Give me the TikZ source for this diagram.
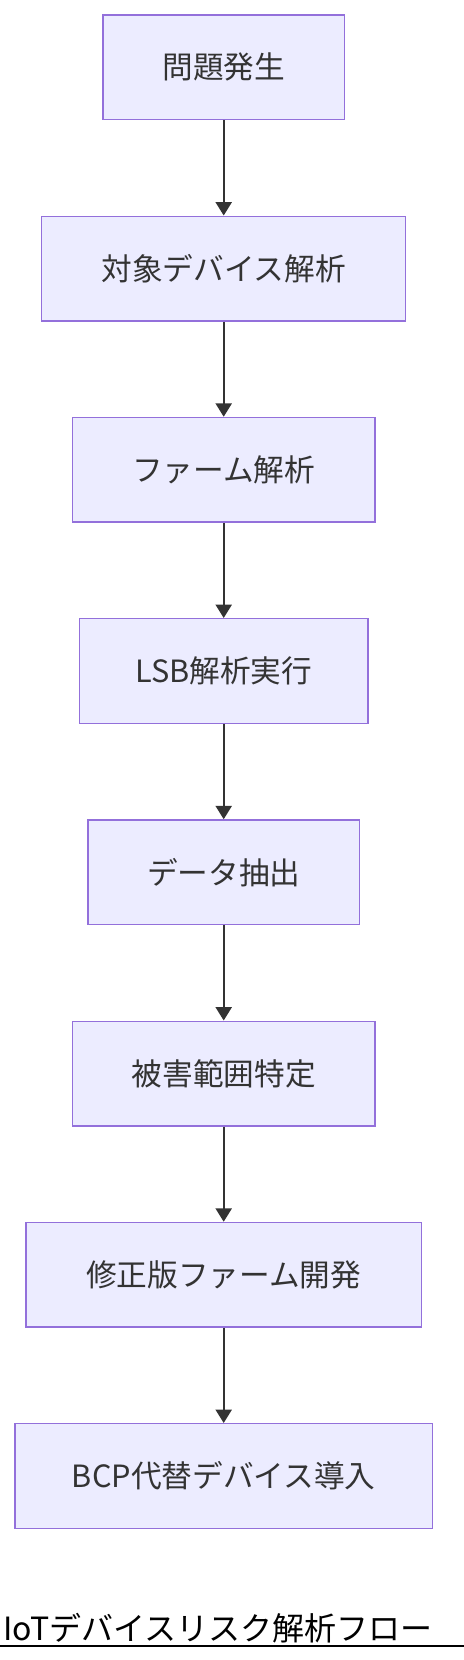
\documentclass[tikz,border=0pt]{standalone}
\usepackage{fontspec}
\newfontfamily\jpfont{Noto Sans CJK JP}
\usetikzlibrary{arrows.meta}

\definecolor{boxfill}{HTML}{ECECFF}
\definecolor{boxline}{HTML}{9370DB}
\definecolor{arrline}{HTML}{333333}

\tikzset{every picture/.style={line width=0.75pt}}
\tikzset{
  stepbox/.style={draw=boxline, fill=boxfill, line width=1.1pt, minimum height=78.4pt,
    inner sep=0pt, text=arrline, font=\jpfont\fontsize{23}{27}\selectfont},
  flowarrow/.style={draw=arrline, line width=1.5pt, -{Triangle[length=10pt,width=12pt]}}
}

\begin{document}
\begin{tikzpicture}[x=0.75pt,y=0.75pt,yscale=-1,xscale=1]
\useasboundingbox (0,0) rectangle (464,1660);

% Process Nodes
\node [stepbox, minimum width=180.8pt] (occur) at (223.7,67.25) {問題発生};
\node [stepbox, minimum width=273pt] (device) at (223.7,268.5) {対象デバイス解析};
\node [stepbox, minimum width=227pt] (firm) at (223.7,469.75) {ファーム解析};
\node [stepbox, minimum width=216.5pt] (lsb) at (223.7,671) {LSB解析実行};
\node [stepbox, minimum width=203.5pt] (extract) at (223.7,872.25) {データ抽出};
\node [stepbox, minimum width=227pt] (scope) at (223.7,1073.5) {被害範囲特定};
\node [stepbox, minimum width=296.5pt] (fix) at (223.7,1274.75) {修正版ファーム開発};
\node [stepbox, minimum width=313.3pt] (bcp) at (223.7,1476) {BCP代替デバイス導入};

% Arrows
\draw [flowarrow] (occur) -- (device);
\draw [flowarrow] (device) -- (firm);
\draw [flowarrow] (firm) -- (lsb);
\draw [flowarrow] (lsb) -- (extract);
\draw [flowarrow] (extract) -- (scope);
\draw [flowarrow] (scope) -- (fix);
\draw [flowarrow] (fix) -- (bcp);

% Title
\node [anchor=base west, inner sep=0pt, font=\jpfont\fontsize{24}{28}\selectfont] (title) at (3,1640) {IoTデバイスリスク解析フロー};
\coordinate (ulstart) at (0,1646);
\coordinate (ulend) at (464,1646);
\draw [line width=1.3pt] (ulstart) -- (ulend);

\end{tikzpicture}
\end{document}
